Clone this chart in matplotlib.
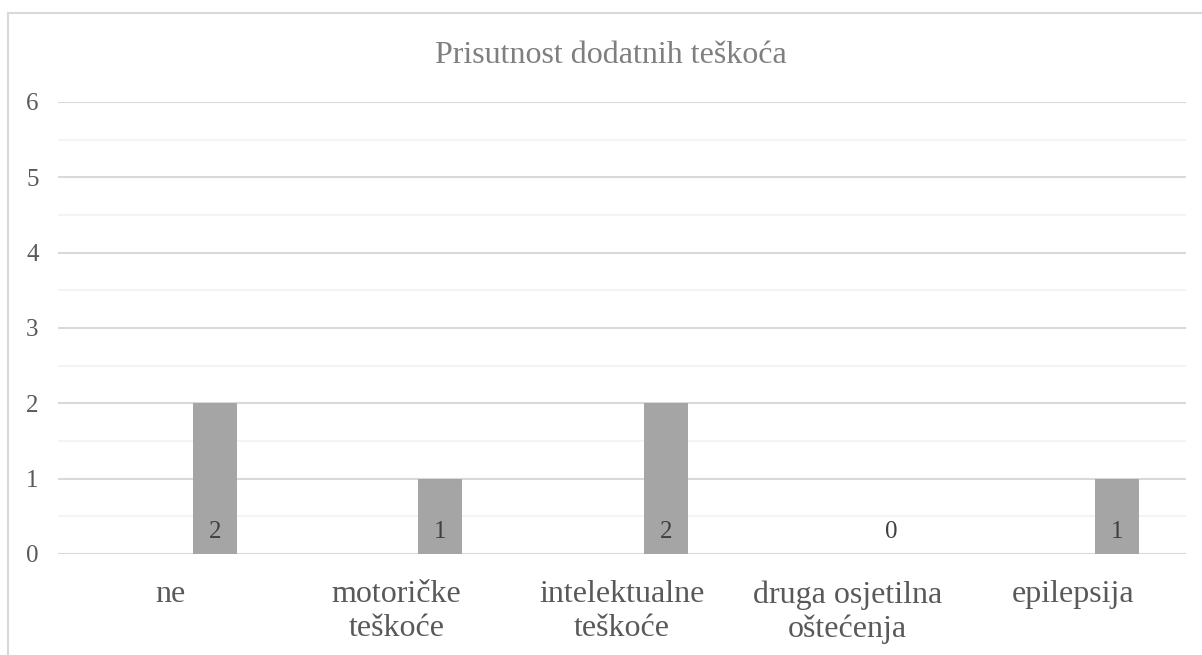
import matplotlib
matplotlib.use("Agg")
import matplotlib.pyplot as plt
from matplotlib.patches import Rectangle
import numpy as np

title = "Prisutnost dodatnih teškoća"
categories = ["ne", "motoričke\nteškoće", "intelektualne\nteškoće", "druga osjetilna\noštećenja", "epilepsija"]
values = [2, 1, 2, 0, 1]
yticks = [0, 1, 2, 3, 4, 5, 6]

plt.rcParams['font.family'] = ['Liberation Serif', 'DejaVu Serif']

W, H = 1202, 655
fig = plt.figure(figsize=(W / 100, H / 100), dpi=100)
fig.patch.set_facecolor('white')

# outer chart border (cut at right and bottom)
fig.patches.append(Rectangle((8 / W, -0.1), 1.2, (H - 13) / H + 0.1, transform=fig.transFigure,
                             fill=False, edgecolor='#d9d9d9', linewidth=1.5))

left, right, top, bottom = 58, 1186, 102, 554
ax = fig.add_axes([left / W, 1 - bottom / H, (right - left) / W, (bottom - top) / H])

n = len(categories)
x = np.arange(n)
bw = 44 / 225.6
offset = 44 / 225.6
ax.bar(x + offset, values, width=bw, color='#a5a5a5', zorder=3)

ax.set_xlim(-0.5, n - 0.5)
ax.set_ylim(0, 6)
ax.set_yticks(yticks)
ax.set_yticklabels([str(t) for t in yticks], fontsize=18, color='#595959')
ax.set_yticks(np.arange(0.5, 6, 1), minor=True)
ax.set_xticks(x)
ax.set_xticklabels(categories, fontsize=23, color='#595959', linespacing=1.2)
ax.tick_params(axis='both', which='both', length=0)
ax.tick_params(axis='y', pad=14)
ax.tick_params(axis='x', pad=19)
ax.grid(axis='y', which='major', color='#d9d9d9', linewidth=1.5, zorder=0)
ax.grid(axis='y', which='minor', color='#f2f2f2', linewidth=1.2, zorder=0)
for s in ax.spines.values():
    s.set_visible(False)

for xi, v in zip(x, values):
    ax.annotate(str(v), (xi + offset, 0), xytext=(0, 11.5), textcoords='offset points',
                ha='center', va='baseline', fontsize=18, color='#404040', zorder=4)

fig.text(611 / W, 1 - 63 / H, title, ha='center', va='baseline', fontsize=23, color='#7f7f7f')

fig.savefig('out.png', dpi=100, facecolor='white')
